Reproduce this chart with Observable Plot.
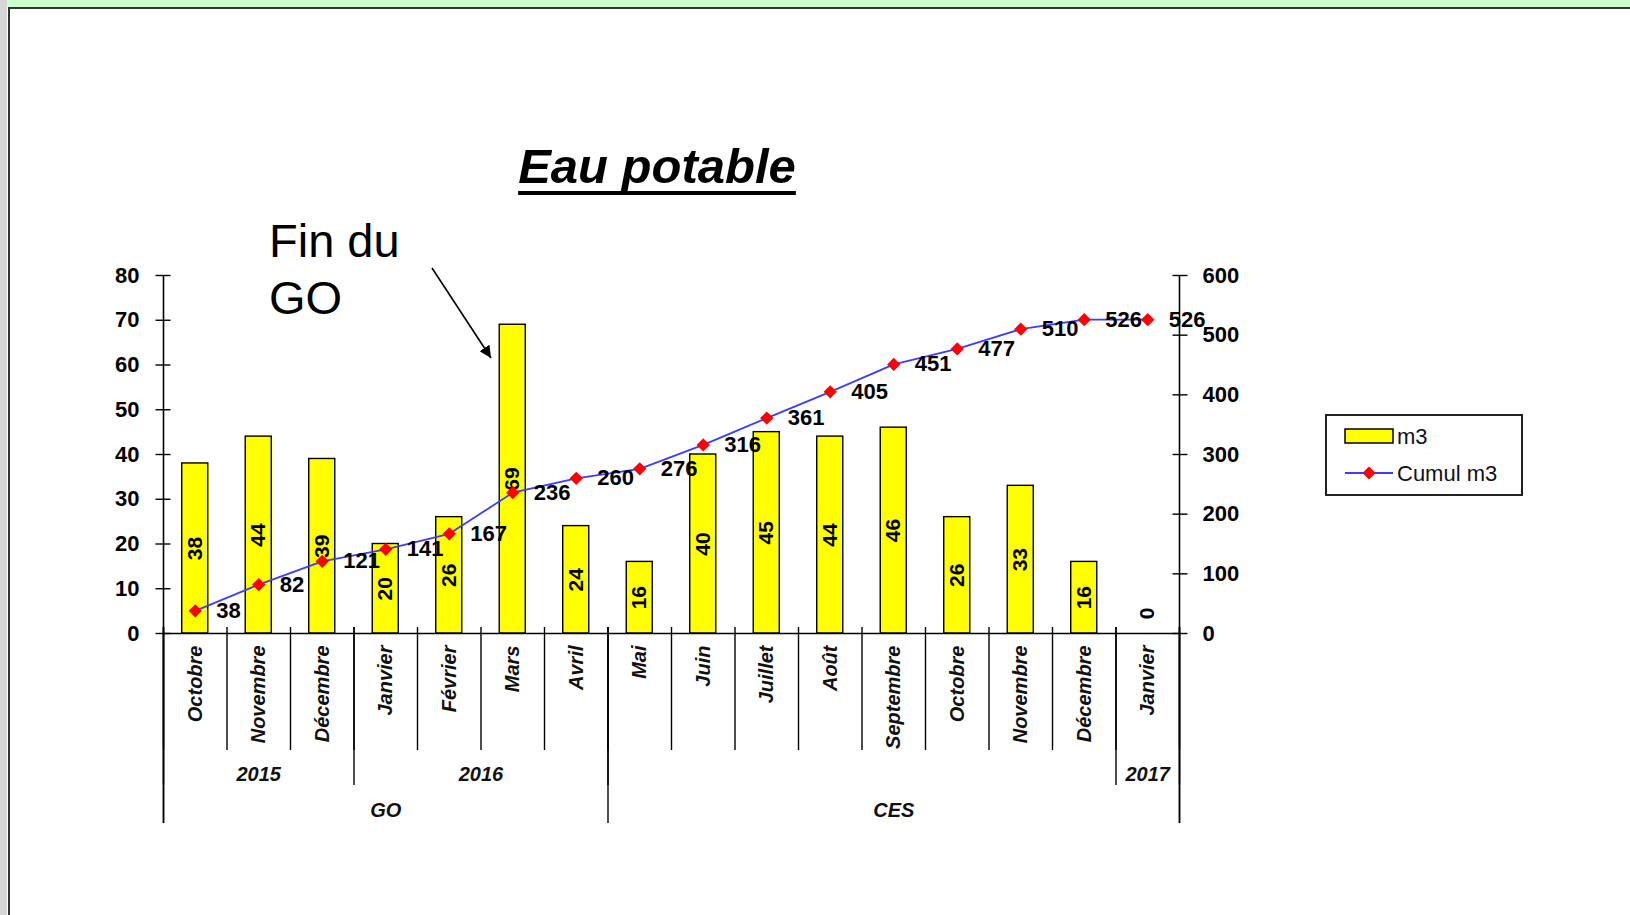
<!DOCTYPE html>
<html>
<head>
<meta charset="utf-8">
<script src="https://cdn.jsdelivr.net/npm/d3@7"></script>
<script src="https://cdn.jsdelivr.net/npm/@observablehq/plot@0.6"></script>
<style>
  html, body { margin: 0; padding: 0; background: #fff; }
  body { width: 1630px; height: 915px; position: relative; overflow: hidden; font-family: "Liberation Sans", Arial, sans-serif; }
  .layer { position: absolute; left: 0; top: 0; width: 1630px; height: 915px; }
  .layer svg { position: absolute; left: 0; top: 0; overflow: visible; }
  #leftStrip { position: absolute; left: 0; top: 0; width: 7px; height: 915px; background: #d6d6d6; }
  #topStrip { position: absolute; left: 7px; top: 0; right: 0; height: 7px; background: #ccffcc; }
  #topLine { position: absolute; left: 8px; top: 7px; right: 0; height: 2px; background: #333; }
  #leftLine { position: absolute; left: 8px; top: 7px; width: 2px; bottom: 0; background: #333; }
</style>
</head>
<body>
<div id="leftStrip"></div><div id="topStrip"></div><div id="topLine"></div><div id="leftLine"></div>
<div id="chart" class="layer"></div>
<script>
// ---- data ----
const months = ["Octobre","Novembre","Décembre","Janvier","Février","Mars","Avril","Mai","Juin","Juillet","Août","Septembre","Octobre","Novembre","Décembre","Janvier"];
const years  = ["2015","2015","2015","2016","2016","2016","2016","","","","","","","","","2017"];
const phases = ["GO","GO","GO","GO","GO","GO","GO","CES","CES","CES","CES","CES","CES","CES","CES","CES"];
const m3     = [38,44,39,20,26,69,24,16,40,45,44,46,26,33,16,0];
const cumul  = [38,82,121,141,167,236,260,276,316,361,405,451,477,510,526,526];
const leftTicks  = [0,10,20,30,40,50,60,70,80];
const rightTicks = [0,100,200,300,400,500,600];
const seriesNames = ["m3","Cumul m3"];
const titleText = "Eau potable";
const noteLines = ["Fin du","GO"];

const rows = months.map((m, i) => ({i, month: m, year: years[i], phase: phases[i], m3: m3[i], cumul: cumul[i]}));

function spans(labels) {
  const out = [];
  let start = 0;
  for (let i = 1; i <= labels.length; i++) {
    if (i === labels.length || labels[i] !== labels[start]) {
      out.push({label: labels[start], start, end: i});
      start = i;
    }
  }
  return out;
}
const yearSpans = spans(years);
const phaseSpans = spans(phases);
const yearBounds = Array.from(new Set(yearSpans.flatMap(s => [s.start, s.end])));
const phaseBounds = Array.from(new Set(phaseSpans.flatMap(s => [s.start, s.end])));
const allBounds = d3.range(months.length + 1);

const FONT = "Liberation Sans, Arial, sans-serif";
const W = 1630, H = 915;
const M = {top: 275, bottom: 282, left: 163, right: 451};
const common = {width: W, height: H, marginTop: M.top, marginBottom: M.bottom, marginLeft: M.left, marginRight: M.right,
  style: {background: "transparent", fontFamily: FONT, color: "#000", overflow: "visible"}};
const xBand = {type: "band", domain: d3.range(months.length), paddingInner: 0.59, paddingOuter: 0.295, round: false, axis: null};

// Plot A: bars + left axis
const plotA = Plot.plot({
  ...common,
  x: xBand,
  y: {domain: [0, 80], axis: null},
  marks: [
    Plot.barY(rows, {x: "i", y: "m3", fill: "#ffff00", stroke: "#000", strokeWidth: 1.4}),
    Plot.ruleY([0], {stroke: "#000", strokeWidth: 1.6}),
    Plot.axisY(leftTicks, {anchor: "left", tickSize: 15, dx: 7.5, tickPadding: 16.5, fontSize: 22, fontWeight: "bold", fontFamily: FONT, label: null, tickFormat: d => String(d), stroke: "#000", strokeWidth: 1.4}),
    Plot.text(rows.filter(d => d.m3 > 0), {x: "i", y: d => d.m3 / 2, text: d => String(d.m3), rotate: -90, fontSize: 21, fontWeight: "bold", fontFamily: FONT, fill: "#000"}),
    Plot.text(rows.filter(d => d.m3 === 0), {x: "i", y: "m3", text: d => String(d.m3), rotate: -90, dy: -20, fontSize: 21, fontWeight: "bold", fontFamily: FONT, fill: "#000"})
  ]
});

// Plot B: cumulative line + right axis
const plotB = Plot.plot({
  ...common,
  x: xBand,
  y: {domain: [0, 600], axis: null},
  marks: [
    Plot.line(rows, {x: "i", y: "cumul", stroke: "#3c3cff", strokeWidth: 1.8}),
    Plot.dot(rows, {x: "i", y: "cumul", symbol: "diamond2", r: 6, fill: "#ff0000", stroke: "none"}),
    Plot.text(rows, {x: "i", y: "cumul", text: d => String(d.cumul), dx: 21, textAnchor: "start", fontSize: 22, fontWeight: "bold", fontFamily: FONT, fill: "#000"}),
    Plot.axisY(rightTicks, {anchor: "right", tickSize: 15, dx: -7.5, tickPadding: 15.5, fontSize: 22, fontWeight: "bold", fontFamily: FONT, label: null, tickFormat: d => String(d), stroke: "#000", strokeWidth: 1.4})
  ]
});

// Plot C: multi-level category axis and vertical axis lines
const plotC = Plot.plot({
  width: W, height: H, marginTop: M.top, marginBottom: 92, marginLeft: M.left, marginRight: M.right,
  style: {background: "transparent", fontFamily: FONT, color: "#000", overflow: "visible"},
  x: {type: "linear", domain: [0, months.length], axis: null},
  marks: [
    Plot.ruleX([0, months.length], {stroke: "#000", strokeWidth: 1.6}),
    Plot.ruleX(allBounds, {stroke: "#000", strokeWidth: 1.4, insetTop: 352, insetBottom: 73}),
    Plot.ruleX(yearBounds, {stroke: "#000", strokeWidth: 1.4, insetTop: 352, insetBottom: 38}),
    Plot.ruleX(phaseBounds, {stroke: "#000", strokeWidth: 1.4, insetTop: 352, insetBottom: 0}),
    Plot.text(rows, {x: d => d.i + 0.5, text: "month", frameAnchor: "top", lineAnchor: "middle", dy: 370, rotate: -90, textAnchor: "end", fontSize: 20, fontWeight: "bold", fontStyle: "italic", fontFamily: FONT, fill: "#111"}),
    Plot.text(yearSpans.filter(s => s.label), {x: s => (s.start + s.end) / 2, text: "label", frameAnchor: "bottom", lineAnchor: "middle", dy: -49, fontSize: 20, fontWeight: "bold", fontStyle: "italic", fontFamily: FONT, fill: "#111"}),
    Plot.text(phaseSpans, {x: s => (s.start + s.end) / 2, text: "label", frameAnchor: "bottom", lineAnchor: "middle", dy: -13, fontSize: 20, fontWeight: "bold", fontStyle: "italic", fontFamily: FONT, fill: "#111"})
  ]
});

const chart = document.getElementById("chart");
chart.append(plotC, plotA, plotB);

// Annotations: title, note with arrow, legend
const svgNS = "http://www.w3.org/2000/svg";
const ann = document.createElementNS(svgNS, "svg");
ann.setAttribute("width", W); ann.setAttribute("height", H);
ann.style.position = "absolute"; ann.style.left = "0"; ann.style.top = "0";
ann.innerHTML = `
<defs>
  <marker id="ah" viewBox="0 0 10 10" refX="10" refY="5" markerWidth="12" markerHeight="12" markerUnits="userSpaceOnUse" orient="auto">
    <path d="M0,0 L10,5 L0,10 z" fill="#000"/>
  </marker>
</defs>
<text id="title" x="657" y="183" text-anchor="middle" font-family="${FONT}" font-size="49" font-weight="bold" font-style="italic" fill="#000">${titleText}</text>
<line id="uline" x1="515" x2="797" y1="193" y2="193" stroke="#000" stroke-width="4"/>
<text x="269" y="257" font-family="${FONT}" font-size="47" fill="#000">${noteLines[0]}</text>
<text x="269" y="314" font-family="${FONT}" font-size="47" fill="#000">${noteLines[1]}</text>
<line x1="432" y1="268" x2="491" y2="358" stroke="#000" stroke-width="1.6" marker-end="url(#ah)"/>
<rect x="1326" y="415" width="196" height="80" fill="#fff" stroke="#222" stroke-width="2"/>
<rect x="1345" y="429" width="48" height="14" fill="#ffff00" stroke="#000" stroke-width="1.5"/>
<text x="1397" y="436" dominant-baseline="central" font-family="${FONT}" font-size="22" fill="#111">${seriesNames[0]}</text>
<line x1="1345" x2="1393" y1="473" y2="473" stroke="#3c3cff" stroke-width="2"/>
<path d="M1369,466.5 L1375.5,473 L1369,479.5 L1362.5,473 Z" fill="#ff0000"/>
<text x="1397" y="473" dominant-baseline="central" font-family="${FONT}" font-size="22" fill="#111">${seriesNames[1]}</text>
`;
chart.append(ann);
const t = ann.querySelector("#title");
const bb = t.getBBox();
const ul = ann.querySelector("#uline");
ul.setAttribute("x1", bb.x); ul.setAttribute("x2", bb.x + bb.width);
</script>
</body>
</html>
